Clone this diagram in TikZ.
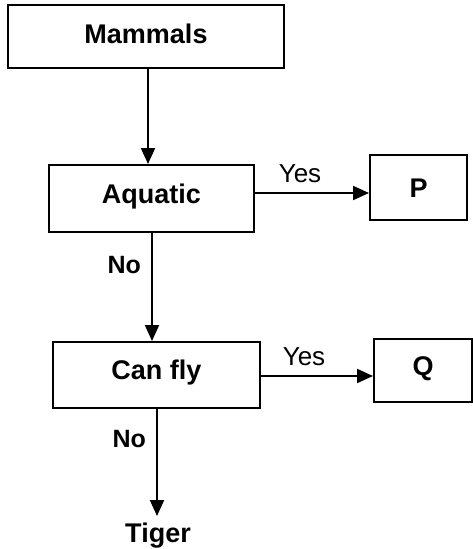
\documentclass[tikz,border=0pt]{standalone}
\usepackage{fontspec}
\setmainfont{Liberation Sans}
\usetikzlibrary{arrows.meta}
\begin{document}
\begin{tikzpicture}[x=1pt,y=-1pt,
  box/.style={draw=black,line width=2pt,inner sep=0pt,font=\fontsize{27}{30}\selectfont\bfseries,
    text height=19.3pt,text depth=10pt},
  conn/.style={line width=2pt,-{Triangle[length=16pt,width=14pt]}},
  lbl/.style={font=\fontsize{26}{30}\selectfont,inner sep=0pt},
  lblb/.style={font=\fontsize{25}{30}\selectfont\bfseries,inner sep=0pt}]
\useasboundingbox (0,0) rectangle (472,549);
\node[box,minimum width=276pt,minimum height=63pt,text depth=5pt] (mammals) at (146,36.5) {Mammals};
\node[box,minimum width=205pt,minimum height=67pt] (aquatic) at (151.5,198.5) {Aquatic};
\node[box,minimum width=97pt,minimum height=65pt,text depth=0pt] (p) at (418.5,187.5) {P};
\node[box,minimum width=207pt,minimum height=66pt] (canfly) at (156.5,375) {Can fly};
\node[box,minimum width=98pt,minimum height=63pt] (q) at (423,370.5) {Q};
\node[box,draw=none,anchor=base,text height=0pt,text depth=0pt] (tiger) at (158,542) {Tiger};
\coordinate (tigertop) at (157,516);
\draw[conn] (mammals.south -| 148,0) -- (aquatic.north -| 148,0);
\draw[conn] (aquatic.east |- 0,193) -- node[lbl,above=9pt,xshift=-12pt] (y1) {Yes} (p.west |- 0,193);
\draw[conn] (aquatic.south -| 152,0) -- node[lblb,pos=0.3,left=10pt] (n1) {No} (canfly.north -| 152,0);
\draw[conn] (canfly.east |- 0,376) -- node[lbl,above=9pt,xshift=-13pt] (y2) {Yes} (q.west |- 0,376);
\draw[conn] (canfly.south -| 157,0) -- node[lblb,pos=0.28,left=10pt] (n2) {No} (tigertop);
\end{tikzpicture}
\end{document}
